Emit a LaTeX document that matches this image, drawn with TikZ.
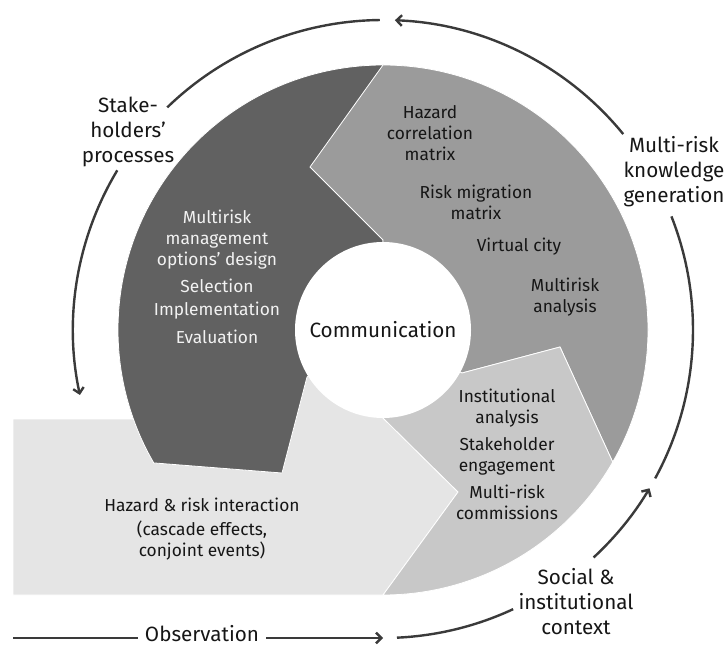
\documentclass[tikz,border=0pt]{standalone}
\usepackage{fontspec}
\setmainfont{Fira Sans}
\usetikzlibrary{arrows.meta}

\definecolor{darkseg}{RGB}{97,97,97}
\definecolor{midseg}{RGB}{155,155,155}
\definecolor{instseg}{RGB}{200,200,200}
\definecolor{lightseg}{RGB}{229,229,229}
\definecolor{flowgray}{RGB}{58,58,58}
\definecolor{lbltext}{RGB}{22,22,22}

\tikzset{every picture/.style={line width=0.75pt}}
\tikzset{
  seg/.style={draw=white, line width=0.6pt},
  flow/.style={color=flowgray, line width=1.8pt},
  flowtip/.style={flow, -{Straight Barb[length=4pt,width=8pt]}},
  outerlbl/.style={font=\fontsize{15.5}{18.75}\selectfont, align=center, text=lbltext, inner sep=0.75pt},
  innerlbl/.style={font=\fontsize{13}{15.75}\selectfont, align=center, text=lbltext, inner sep=0.75pt},
  whitelbl/.style={innerlbl, text=white!95!black},
}

\begin{document}
\begin{tikzpicture}[x=0.75pt,y=0.75pt,yscale=-1,xscale=1]
\useasboundingbox (0,0) rectangle (724,648);
\coordinate (ctr) at (383,330);

%Shape: Hazard & risk interaction band
\draw [seg, fill=lightseg] (13,419) -- (150,419) -- (300,350) -- (ctr) -- (383,418) -- (458,492) -- (383,595) -- (13,595) -- cycle;
%Shape: Stakeholders' processes sector
\draw [seg, fill=darkseg] ([shift={(-90:265)}]ctr) arc[start angle=-90, end angle=-210.1, radius=265] -- (282,473) -- (307,377) -- (ctr) -- cycle;
%Shape: knowledge generation sector
\draw [seg, fill=midseg] ([shift={(-90:265)}]ctr) arc[start angle=-90, end angle=29.9, radius=265] -- (560,347) -- (462,373) -- (ctr) -- (383,240) -- (310,167) -- cycle;
%Shape: institutional context sector
\draw [seg, fill=instseg] (462,373) -- (560,347) -- ([shift={(29.9:265)}]ctr) arc[start angle=29.9, end angle=90, radius=265] -- (458,492) -- (383,418) -- (ctr) -- cycle;

%Shape: centre
\node (comm) [circle, fill=white, minimum size=132pt, inner sep=0pt, font=\fontsize{15.5}{18}\selectfont, text=lbltext] at (ctr) {Communication};

% Text Node
\draw (217,240) node (mrm) [whitelbl] {Multirisk\\management\\options’ design};
% Text Node
\draw (217,286) node (sel) [whitelbl] {Selection};
% Text Node
\draw (217,311) node (impl) [whitelbl] {Implementation};
% Text Node
\draw (217,337) node (eval) [whitelbl] {Evaluation};

% Text Node
\draw (430,133) node (hcm) [innerlbl] {Hazard\\correlation\\matrix};
% Text Node
\draw (476,202) node (rmm) [innerlbl] {Risk migration\\matrix};
% Text Node
\draw (519,247) node (vcity) [innerlbl] {Virtual city};
% Text Node
\draw (565,297) node (mra) [innerlbl] {Multirisk\\analysis};

% Text Node
\draw (507,408) node (inst) [innerlbl] {Institutional\\analysis};
% Text Node
\draw (507,456) node (stake) [innerlbl] {Stakeholder\\engagement};
% Text Node
\draw (507,502) node (comms) [innerlbl] {Multi-risk\\commissions};

% Text Node
\draw (202,505) node (hri) [innerlbl] {Hazard \& risk interaction};
% Text Node
\draw (202,541) node (casc) [innerlbl] {(cascade effects,\\conjoint events)};

% Text Node
\draw (128,132) node (shp) [outerlbl] {Stake-\\holders’\\processes};
% Text Node
\draw (674,172) node (mkg) [outerlbl] {Multi-risk\\knowledge\\generation};
% Text Node
\draw (576,602) node (sic) [outerlbl] {Social \&\\institutional\\context};
% Text Node
\draw (202,634) node (obs) [outerlbl, inner xsep=5pt] {Observation};

\coordinate (obsL) at (13,638);
\coordinate (obsR) at (383,638);
\draw [flow] (obsL) -- (obs.west |- obsL);
\draw [flowtip] (obs.east |- obsR) -- (obsR);

%Curve Lines: outer cycle
\draw [flow] ([shift={(-134.1:310)}]ctr) arc[start angle=-134.1, end angle=-90.6, radius=310];
\draw [flowtip] ([shift={(-39.2:310)}]ctr) arc[start angle=-39.2, end angle=-87.8, radius=310];
\draw [flowtip] ([shift={(-149:310)}]ctr) arc[start angle=-149, end angle=-192.1, radius=310];
\draw [flow] ([shift={(87.4:308)}]ctr) arc[start angle=87.4, end angle=65, radius=308];
\draw [flowtip] ([shift={(47.2:310)}]ctr) arc[start angle=47.2, end angle=30.7, radius=310];
\draw [flow] ([shift={(28.6:310)}]ctr) arc[start angle=28.6, end angle=-21.5, radius=310];

\end{tikzpicture}
\end{document}
